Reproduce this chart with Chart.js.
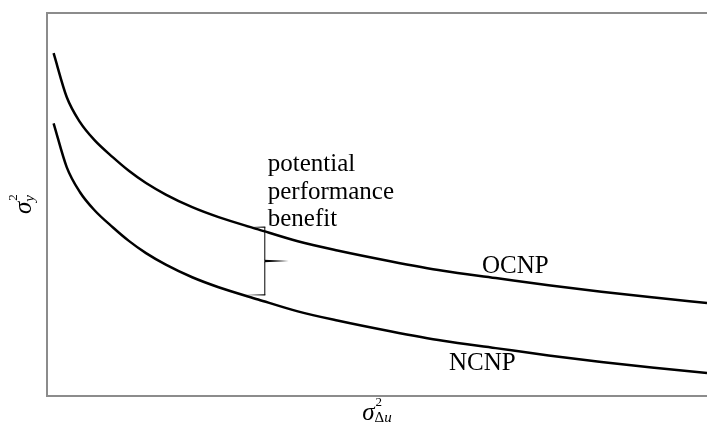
<!DOCTYPE html>
<html>
<head>
<meta charset="utf-8">
<script src="https://cdn.jsdelivr.net/npm/chart.js@4/dist/chart.umd.min.js"></script>
<style>
	html, body { margin: 0; padding: 0; background: #fff; overflow: hidden; }
</style>
</head>
<body>
<canvas id="myChart" width="707" height="427"></canvas>
<script>
// input increment variance (x) against output variance for both schemes
var sigmaDu = [0.5, 1.5, 2.5, 3.6, 5, 6.2, 7.5, 9, 11, 13, 16, 19, 22, 26, 30, 34, 38, 42, 46, 50];
var ocnp = [8.95, 7.80, 7.15, 6.68, 6.23, 5.88, 5.56, 5.26, 4.93, 4.67, 4.35, 4.04, 3.80, 3.52, 3.27, 3.08, 2.89, 2.72, 2.57, 2.43];
var ncnp = [7.12, 5.97, 5.32, 4.85, 4.40, 4.05, 3.73, 3.43, 3.10, 2.84, 2.52, 2.21, 1.97, 1.69, 1.44, 1.25, 1.06, 0.89, 0.74, 0.60];
var curveNames = ['OCNP', 'NCNP'];
var benefitLines = ['potential', 'performance', 'benefit'];

var xMax = 50;
var yMax = 10;

// annotation anchors, in data units
var braceX = 16.5, braceTop = 4.41, braceBottom = 2.64;
var benefitPos = { x: 16.72, y: 5.87 };
var namePos = [{ x: 32.95, y: 3.21 }, { x: 30.45, y: 0.68 }];

var serif = '"Liberation Serif", "Times New Roman", serif';

function toPoints(ys) {
	return sigmaDu.map(function(x, i) {
		return { x: x, y: ys[i] };
	});
}

// σ² with a subscript, drawn from the current origin on the baseline
function sigmaWidth(ctx, sub) {
	ctx.font = 'italic 25px ' + serif;
	var w = ctx.measureText('σ').width;
	sub.forEach(function(s) {
		ctx.font = (s.italic ? 'italic ' : '') + '15px ' + serif;
		w += ctx.measureText(s.text).width;
	});
	return w;
}

function drawSigma(ctx, x0, y0, sub, subDrop) {
	ctx.font = 'italic 25px ' + serif;
	ctx.fillText('σ', x0, y0);
	var w = ctx.measureText('σ').width;
	ctx.font = '13px ' + serif;
	ctx.fillText('2', x0 + w + 1, y0 - 14);
	var sx = x0 + w;
	sub.forEach(function(s) {
		ctx.font = (s.italic ? 'italic ' : '') + '15px ' + serif;
		ctx.fillText(s.text, sx, y0 + subDrop);
		sx += ctx.measureText(s.text).width;
	});
}

var annotations = {
	id: 'annotations',
	afterDatasetsDraw: function(chart) {
		var ctx = chart.ctx;
		var area = chart.chartArea;
		var xs = chart.scales.x;
		var ys = chart.scales.y;

		ctx.save();

		// frame: left, top and bottom (right side runs off the page)
		ctx.strokeStyle = '#8c8c8c';
		ctx.lineWidth = 2;
		ctx.beginPath();
		ctx.moveTo(area.right + 2, area.top);
		ctx.lineTo(area.left, area.top);
		ctx.lineTo(area.left, area.bottom);
		ctx.lineTo(area.right + 2, area.bottom);
		ctx.stroke();

		// brace between the two curves
		var bx = xs.getPixelForValue(braceX);
		var bt = ys.getPixelForValue(braceTop);
		var bb = ys.getPixelForValue(braceBottom);
		var bm = (bt + bb) / 2;
		var endX = bx - 20;
		var tipX = bx + 24;
		ctx.fillStyle = '#000';
		ctx.strokeStyle = '#000';
		ctx.lineWidth = 1;
		ctx.beginPath();
		ctx.moveTo(bx, bt);
		ctx.lineTo(bx, bm - 1);
		ctx.moveTo(bx, bm + 1);
		ctx.lineTo(bx, bb);
		ctx.stroke();
		ctx.beginPath();
		ctx.moveTo(bx + 0.5, bt - 0.6);
		ctx.lineTo(endX, bt + 0.2);
		ctx.lineTo(bx + 0.5, bt + 0.6);
		ctx.closePath();
		ctx.fill();
		ctx.beginPath();
		ctx.moveTo(bx + 0.5, bb - 0.6);
		ctx.lineTo(endX, bb + 0.2);
		ctx.lineTo(bx + 0.5, bb + 0.6);
		ctx.closePath();
		ctx.fill();
		ctx.beginPath();
		ctx.moveTo(bx - 0.5, bm - 1.3);
		ctx.lineTo(tipX, bm);
		ctx.lineTo(bx - 0.5, bm + 1.3);
		ctx.closePath();
		ctx.fill();

		// text labels
		ctx.fillStyle = '#000';
		ctx.textAlign = 'left';
		ctx.textBaseline = 'alphabetic';
		ctx.font = '25px ' + serif;
		var tx = xs.getPixelForValue(benefitPos.x);
		var ty = ys.getPixelForValue(benefitPos.y);
		benefitLines.forEach(function(line, i) {
			ctx.fillText(line, tx, ty + i * 27.5);
		});
		curveNames.forEach(function(name, i) {
			ctx.fillText(name, xs.getPixelForValue(namePos[i].x), ys.getPixelForValue(namePos[i].y));
		});

		// axis titles
		var xSub = [{ text: 'Δ', italic: false }, { text: 'u', italic: true }];
		var xw = sigmaWidth(ctx, xSub);
		drawSigma(ctx, (area.left + area.right) / 2 - xw / 2, area.bottom + 24, xSub, 2);

		var ySub = [{ text: 'y', italic: true }];
		var yw = sigmaWidth(ctx, ySub);
		ctx.translate(area.left - 16, (area.top + area.bottom) / 2);
		ctx.rotate(-Math.PI / 2);
		drawSigma(ctx, -yw / 2, 0, ySub, 3);

		ctx.restore();
	}
};

var ctx = document.getElementById('myChart').getContext('2d');
var myChart = new Chart(ctx, {
	type: 'line',
	data: {
		datasets: [
			{
				label: curveNames[0],
				data: toPoints(ocnp),
				borderColor: '#000',
				borderWidth: 2.5,
				pointRadius: 0,
				cubicInterpolationMode: 'monotone',
				fill: false
			},
			{
				label: curveNames[1],
				data: toPoints(ncnp),
				borderColor: '#000',
				borderWidth: 2.5,
				pointRadius: 0,
				cubicInterpolationMode: 'monotone',
				fill: false
			}
		]
	},
	options: {
		responsive: false,
		animation: false,
		events: [],
		layout: {
			padding: { left: 47, top: 13, right: 0, bottom: 31 }
		},
		scales: {
			x: { type: 'linear', min: 0, max: xMax, display: false },
			y: { type: 'linear', min: 0, max: yMax, display: false }
		},
		plugins: {
			legend: { display: false },
			tooltip: { enabled: false }
		}
	},
	plugins: [annotations]
});
</script>
</body>
</html>
